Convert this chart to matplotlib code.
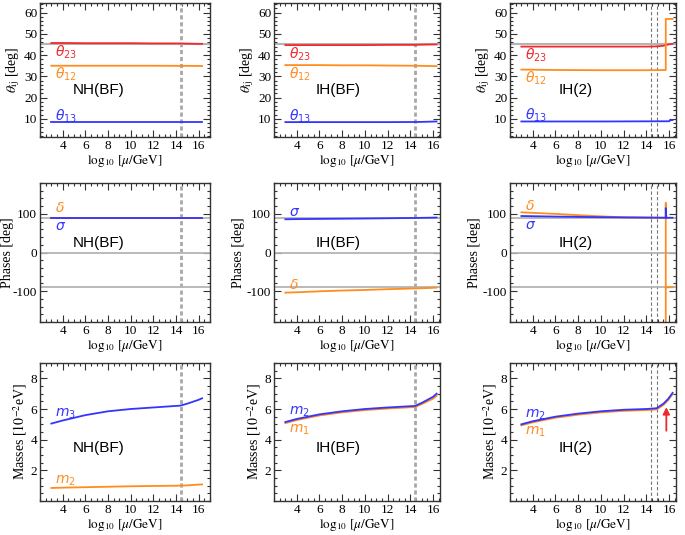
import numpy as np
import matplotlib
matplotlib.use('Agg')
import matplotlib.pyplot as plt
from matplotlib.ticker import MultipleLocator, FixedLocator

plt.rcParams['font.family'] = ['Liberation Serif', 'DejaVu Serif']
plt.rcParams['mathtext.fontset'] = 'stix'
plt.rcParams['axes.unicode_minus'] = False

RED = '#ee2a2f'
ORANGE = '#ff8c1e'
BLUE = '#3434ff'
GRAY = '#b4b4b4'

# ---- NH(BF) ----
nh_x = [3, 4, 6, 8, 10, 12, 14.4, 15, 16, 16.3]
nh_th23 = [45.7, 45.7, 45.6, 45.6, 45.6, 45.5, 45.5, 45.4, 45.3, 45.3]
nh_th12 = [35.0, 35.0, 35.0, 35.0, 35.0, 35.0, 34.95, 34.95, 34.9, 34.9]
nh_th13 = [8.6, 8.6, 8.6, 8.6, 8.6, 8.6, 8.6, 8.6, 8.6, 8.6]
nh_delta = [90, 90, 90, 90, 90, 90, 90, 90, 90, 90]
nh_sigma = [90, 90, 90, 90, 90, 90, 90, 90, 90, 90]
nh_m3 = [5.05, 5.25, 5.6, 5.85, 6.0, 6.1, 6.22, 6.35, 6.6, 6.7]
nh_m2 = [0.85, 0.87, 0.9, 0.93, 0.96, 0.98, 1.0, 1.02, 1.07, 1.08]

# ---- IH(BF) ----
ih_x = [3, 4, 6, 8, 10, 12, 14.4, 15, 16, 16.3]
ih_th23 = [44.7, 44.7, 44.7, 44.7, 44.7, 44.8, 44.8, 44.9, 45.0, 45.0]
ih_th12 = [35.3, 35.3, 35.3, 35.2, 35.2, 35.1, 35.0, 34.95, 34.85, 34.8]
ih_th13 = [8.5, 8.5, 8.5, 8.5, 8.5, 8.5, 8.55, 8.6, 8.75, 8.8]
ih_sigma = [86, 86.5, 87, 87.5, 88, 88.7, 89.5, 89.8, 90.3, 90.5]
ih_delta = [-104, -103, -100.5, -98.5, -97, -95, -93, -92.5, -91.5, -91]
ih_m2 = [5.15, 5.35, 5.65, 5.85, 6.0, 6.1, 6.2, 6.4, 6.8, 7.0]
ih_m1 = [5.08, 5.28, 5.58, 5.78, 5.93, 6.03, 6.13, 6.32, 6.68, 6.85]

# ---- IH(2) ----
ih2_x = [3, 4, 6, 8, 10, 12, 14, 14.9, 15.5, 15.7, 16.0, 16.3]
ih2_th23 = [44.0, 44.0, 44.0, 44.0, 44.0, 44.0, 44.0, 44.1, 44.4, 44.7, 45.1, 45.3]
ih2_th12_x = [3, 6, 10, 14, 15.7, 15.7, 16.3]
ih2_th12 = [33.2, 33.0, 32.9, 32.9, 33.0, 57.0, 57.0]
ih2_th13_x = [3, 10, 16.0, 16.1, 16.3]
ih2_th13 = [8.8, 8.8, 8.9, 9.4, 9.5]
ih2_delta_x = [3, 6, 9, 12, 15.7, 15.7, 15.7, np.nan, 15.7, 16.3]
ih2_delta = [104, 100, 95, 91, 90, 128, -185, np.nan, -90, -90]
ih2_sigma_x = [3, 6, 10, 14, 15.7, 15.7, 15.75, 16.3]
ih2_sigma = [94.5, 93, 91.5, 90.5, 90, 115, 90, 90]
ih2_mx = [3, 4, 6, 8, 10, 12, 14, 14.9, 15.5, 15.9, 16.3]
ih2_m2 = [5.0, 5.2, 5.5, 5.7, 5.85, 5.95, 6.0, 6.05, 6.35, 6.65, 7.05]
ih2_m1 = [4.93, 5.13, 5.43, 5.63, 5.78, 5.88, 5.93, 5.97, 6.27, 6.57, 6.97]

names = ['NH(BF)', 'IH(BF)', 'IH(2)']
xticks = [4, 6, 8, 10, 12, 14, 16]
xlims = [(2, 17), (2, 16.6), (2, 16.6)]
col_left = [40, 274, 510]
col_w = [170, 166, 166]
row_top = [3, 183, 363]
row_h = [134, 139, 138]

W, H = 685, 535
fig = plt.figure(figsize=(W / 100, H / 100), dpi=100)


def make_ax(r, c):
    ax = fig.add_axes([col_left[c] / W, 1 - (row_top[r] + row_h[r]) / H,
                       col_w[c] / W, row_h[r] / H])
    ax.set_xlim(*xlims[c])
    ax.xaxis.set_major_locator(FixedLocator(xticks))
    ax.xaxis.set_minor_locator(MultipleLocator(0.5))
    ax.tick_params(which='both', direction='in', top=True, right=True,
                   labelsize=9.5, color='#333333', width=0.8, pad=2)
    ax.tick_params(which='major', length=5)
    ax.tick_params(which='minor', length=2.5)
    for s in ax.spines.values():
        s.set_color('#333333')
        s.set_linewidth(1.0)
    ax.set_xlabel(r'$\log_{10}\,[\mu/\mathrm{GeV}]$', fontsize=9.5, labelpad=1)
    if c == 2:
        for xv in (14.4, 14.9):
            ax.axvline(xv, color='#777777', lw=0.8, ls=(0, (3, 2)))
    else:
        ax.axvline(14.4, color='#a8a8a8', lw=2.0, ls=(0, (1.5, 1)))
    return ax


def lab(ax, x, y, s, color):
    ax.text(x, y, s, color=color, fontsize=10, ha='left', va='center',
            math_fontfamily='dejavusans')


def name(ax, c, y):
    ax.text([7.2, 7.6, 7.8][c], y, names[c], fontsize=11, ha='center',
            va='center', family='Liberation Sans')


# ---- row 1: mixing angles ----
angle_data = [
    (nh_x, nh_th23, nh_x, nh_th12, nh_x, nh_th13),
    (ih_x, ih_th23, ih_x, ih_th12, ih_x, ih_th13),
    (ih2_x, ih2_th23, ih2_th12_x, ih2_th12, ih2_th13_x, ih2_th13),
]
lab_y = [(41.4, 31.2, 11.1), (40.2, 30.8, 11.1), (39.9, 28.9, 11.5)]
for c in range(3):
    ax = make_ax(0, c)
    ax.set_ylim(1.5, 64.5)
    ax.yaxis.set_major_locator(MultipleLocator(10))
    ax.yaxis.set_minor_locator(MultipleLocator(2))
    ax.axhline(45, color=GRAY, lw=1.5)
    x23, t23, x12, t12, x13, t13 = angle_data[c]
    ax.plot(x23, t23, color=RED, lw=1.3)
    ax.plot(x12, t12, color=ORANGE, lw=1.3)
    ax.plot(x13, t13, color=BLUE, lw=1.3)
    lab(ax, 3.3, lab_y[c][0], r'$\theta_{23}$', RED)
    lab(ax, 3.3, lab_y[c][1], r'$\theta_{12}$', ORANGE)
    lab(ax, 3.3, lab_y[c][2], r'$\theta_{13}$', BLUE)
    name(ax, c, 23.4)
    ax.set_ylabel(r'$\theta_{\mathrm{ij}}$ [deg]', fontsize=10, labelpad=1)

# ---- row 2: phases ----
phase_data = [
    (nh_x, nh_delta, nh_x, nh_sigma),
    (ih_x, ih_delta, ih_x, ih_sigma),
    (ih2_delta_x, ih2_delta, ih2_sigma_x, ih2_sigma),
]
phase_lab = [(115, 67), (-84, 103), (121, 70)]
for c in range(3):
    ax = make_ax(1, c)
    ax.set_ylim(-180, 180)
    ax.yaxis.set_major_locator(MultipleLocator(100))
    ax.yaxis.set_minor_locator(MultipleLocator(20))
    for yv in (90, 0, -90):
        ax.axhline(yv, color=GRAY, lw=1.3)
    xd, d, xs, s = phase_data[c]
    ax.plot(xd, d, color=ORANGE, lw=1.3)
    ax.plot(xs, s, color=BLUE, lw=1.3)
    lab(ax, 3.3, phase_lab[c][0], r'$\delta$', ORANGE)
    lab(ax, 3.3, phase_lab[c][1], r'$\sigma$', BLUE)
    name(ax, c, 24)
    ax.set_ylabel('Phases [deg]', fontsize=10, labelpad=1)
    if c == 0:
        ax.yaxis.set_label_coords(-0.155, 0.5)

# ---- row 3: masses ----
mass_data = [
    (nh_x, nh_m3, nh_m2, r'$m_3$', r'$m_2$'),
    (ih_x, ih_m2, ih_m1, r'$m_2$', r'$m_1$'),
    (ih2_mx, ih2_m2, ih2_m1, r'$m_2$', r'$m_1$'),
]
mass_lab = [(5.7, 1.34), (5.8, 4.64), (5.65, 4.5)]
for c in range(3):
    ax = make_ax(2, c)
    ax.set_ylim(0, 9)
    ax.yaxis.set_major_locator(FixedLocator([2, 4, 6, 8]))
    ax.yaxis.set_minor_locator(MultipleLocator(0.5))
    xm, upper, lower, lu, ll = mass_data[c]
    ax.plot(xm, lower, color=ORANGE, lw=1.3)
    ax.plot(xm, upper, color=BLUE, lw=1.3)
    lab(ax, 3.3, mass_lab[c][0], lu, BLUE)
    lab(ax, 3.3, mass_lab[c][1], ll, ORANGE)
    name(ax, c, 3.43)
    ax.set_ylabel(r'Masses [$10^{-2}$eV]', fontsize=10, labelpad=1)
    if c == 2:
        ax.annotate('', xy=(15.75, 6.3), xytext=(15.75, 4.4),
                    arrowprops=dict(arrowstyle='-|>', color=RED, lw=1.3,
                                    mutation_scale=10))

fig.savefig('out.png', dpi=100)
